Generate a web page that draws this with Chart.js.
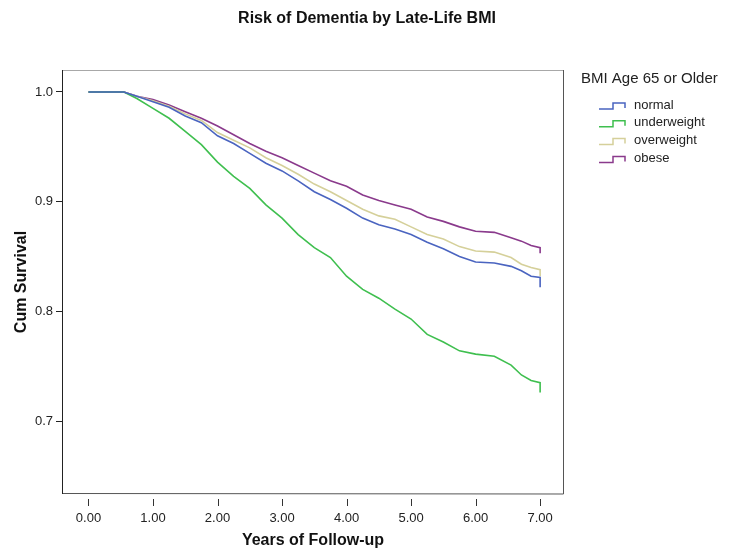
<!DOCTYPE html>
<html>
<head>
<meta charset="utf-8">
<title>Risk of Dementia by Late-Life BMI</title>
<script src="https://cdn.jsdelivr.net/npm/chart.js@4"></script>
<style>
    body { margin: 0; background: #fff; }
    #wrap { width: 734px; height: 557px; }
</style>
</head>
<body>
<div id="wrap"><canvas id="kmChart" width="734" height="557"></canvas></div>
<script>
// follow-up time (years), last point repeated for the final drop
const years = [0, 0.55, 0.75, 1, 1.25, 1.5, 1.75, 2, 2.25, 2.5, 2.75, 3, 3.25, 3.5, 3.75,
    4, 4.25, 4.5, 4.75, 5, 5.25, 5.5, 5.75, 6, 6.29, 6.55, 6.71, 6.86, 7, 7];

const normal = [1, 1, 0.996, 0.991, 0.986, 0.978, 0.972, 0.960, 0.953, 0.944, 0.935, 0.928, 0.919, 0.909, 0.902,
    0.894, 0.885, 0.879, 0.875, 0.870, 0.863, 0.857, 0.850, 0.845, 0.844, 0.841, 0.837, 0.832, 0.831, 0.822];
const underweight = [1, 1, 0.994, 0.985, 0.976, 0.964, 0.952, 0.936, 0.923, 0.912, 0.897, 0.885, 0.870, 0.858, 0.849,
    0.832, 0.820, 0.812, 0.802, 0.793, 0.779, 0.772, 0.764, 0.761, 0.759, 0.751, 0.742, 0.737, 0.735, 0.726];
const overweight = [1, 1, 0.996, 0.992, 0.987, 0.980, 0.974, 0.963, 0.956, 0.949, 0.940, 0.933, 0.925, 0.916, 0.909,
    0.901, 0.893, 0.887, 0.884, 0.877, 0.870, 0.866, 0.859, 0.855, 0.854, 0.849, 0.843, 0.840, 0.838, 0.832];
const obese = [1, 1, 0.996, 0.993, 0.988, 0.982, 0.976, 0.969, 0.961, 0.953, 0.946, 0.940, 0.933, 0.926, 0.919,
    0.914, 0.906, 0.901, 0.897, 0.893, 0.886, 0.882, 0.877, 0.873, 0.872, 0.867, 0.864, 0.860, 0.858, 0.853];

const groupNames = ['normal', 'underweight', 'overweight', 'obese'];
const xTicks = [0, 1, 2, 3, 4, 5, 6, 7];
const yTicks = [0.7, 0.8, 0.9, 1.0];

const FONT = '"Liberation Sans", Arial, sans-serif';
const colors = ['#4a64c0', '#3fbf4f', '#d5d09a', '#8a3a8c'];

function series(values) {
    return years.map((x, i) => ({ x: x, y: values[i] }));
}

// box, titles, legend and detached x ticks
const decorations = {
    id: 'decorations',
    afterDraw(chart) {
        const ctx = chart.ctx;
        const a = chart.chartArea;
        const xs = chart.scales.x;
        ctx.save();

        // plot frame
        ctx.lineWidth = 1;
        ctx.strokeStyle = '#a8a8a8';
        ctx.beginPath();
        ctx.moveTo(a.left, a.top + 0.5);
        ctx.lineTo(a.right, a.top + 0.5);
        ctx.stroke();
        ctx.strokeStyle = '#555';
        ctx.beginPath();
        ctx.moveTo(a.right - 0.5, a.top);
        ctx.lineTo(a.right - 0.5, a.bottom);
        ctx.lineTo(a.left, a.bottom - 0.5);
        ctx.stroke();
        ctx.strokeStyle = '#222';
        ctx.beginPath();
        ctx.moveTo(a.left + 0.5, a.top);
        ctx.lineTo(a.left + 0.5, a.bottom);
        ctx.stroke();

        // x ticks sit a little below the frame
        ctx.strokeStyle = '#333';
        xTicks.forEach(v => {
            const px = Math.round(xs.getPixelForValue(v)) + 0.5;
            ctx.beginPath();
            ctx.moveTo(px, a.bottom + 5);
            ctx.lineTo(px, a.bottom + 12);
            ctx.stroke();
        });

        ctx.fillStyle = '#111';
        ctx.textBaseline = 'middle';

        // main title
        ctx.font = 'bold 16px ' + FONT;
        ctx.textAlign = 'center';
        ctx.fillText('Risk of Dementia by Late-Life BMI', 367, 19);

        // axis titles
        ctx.fillText('Years of Follow-up', (a.left + a.right) / 2, 541);
        ctx.save();
        ctx.translate(22, (a.top + a.bottom) / 2);
        ctx.rotate(-Math.PI / 2);
        ctx.fillText('Cum Survival', 0, 0);
        ctx.restore();

        // legend
        ctx.textAlign = 'left';
        ctx.font = '15px ' + FONT;
        ctx.fillStyle = '#222';
        ctx.fillText('BMI Age 65 or Older', 581, 79);
        ctx.font = '13px ' + FONT;
        chart.data.datasets.forEach((ds, i) => {
            const cy = 105 + i * 17.8;
            ctx.strokeStyle = ds.borderColor;
            ctx.lineWidth = 1.5;
            ctx.beginPath();
            ctx.moveTo(599, cy + 4);
            ctx.lineTo(613, cy + 4);
            ctx.lineTo(613, cy - 2);
            ctx.lineTo(625, cy - 2);
            ctx.lineTo(625, cy + 3);
            ctx.stroke();
            ctx.fillStyle = '#222';
            ctx.fillText(ds.label, 634, cy);
        });

        ctx.restore();
    }
};

const ctx = document.getElementById('kmChart').getContext('2d');
new Chart(ctx, {
    type: 'line',
    data: {
        datasets: [normal, underweight, overweight, obese].map((vals, i) => ({
            label: groupNames[i],
            data: series(vals),
            borderColor: colors[i],
            borderWidth: 1.6,
            pointRadius: 0,
            fill: false,
            tension: 0
        }))
    },
    options: {
        responsive: false,
        devicePixelRatio: 1,
        animation: false,
        layout: { padding: { top: 70, right: 170, left: 0, bottom: 0 } },
        plugins: {
            legend: { display: false },
            title: { display: false },
            tooltip: { enabled: false }
        },
        scales: {
            x: {
                type: 'linear',
                min: -0.41,
                max: 7.37,
                border: { display: false },
                grid: { drawOnChartArea: false, tickLength: 12, tickColor: 'rgba(0,0,0,0)' },
                afterBuildTicks: scale => { scale.ticks = xTicks.map(v => ({ value: v })); },
                afterFit: scale => { scale.height = 63; },
                ticks: {
                    padding: 5,
                    maxRotation: 0,
                    color: '#222',
                    font: { family: FONT, size: 13 },
                    callback: v => Number(v).toFixed(2)
                }
            },
            y: {
                min: 0.6335,
                max: 1.02,
                border: { display: false },
                grid: { drawOnChartArea: false, tickLength: 6, tickColor: '#222' },
                afterBuildTicks: scale => { scale.ticks = yTicks.map(v => ({ value: v })); },
                afterFit: scale => { scale.width = 62; },
                ticks: {
                    padding: 3,
                    color: '#222',
                    font: { family: FONT, size: 13 },
                    callback: v => Number(v).toFixed(1)
                }
            }
        }
    },
    plugins: [decorations]
});
</script>
</body>
</html>
